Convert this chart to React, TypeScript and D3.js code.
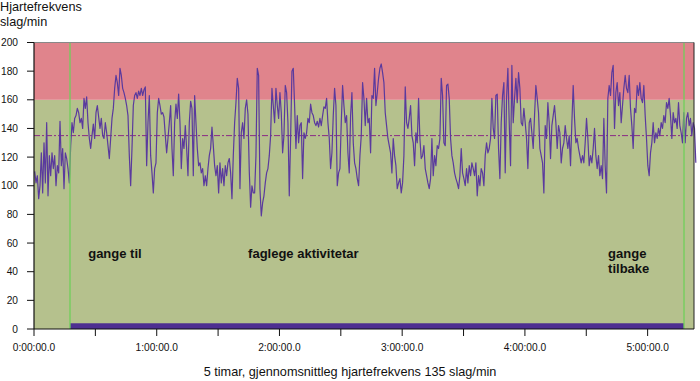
import React from "react";
import * as d3 from "d3";

// ---- data -------------------------------------------------------------
// heart rate samples (slag/min), one sample every ~39 s
const HR_PART1 = [110,102,107,91,100,123,95,130,102,144,93,121,107,123,112,121,100,114,109,145,114,126,98,123,119,112,102,128,144,137,147,149,154,151,144,147,140,161,154,162,144,133,126,135,143,133,151,156,148,140,147,135,133,144,137,128,119,133,147,154,168,177,172,163,182,177,168,165,161,156,149,121,100,126,156,163,165,161,166,163,168,163];
const HR_PART2 = [167,169,114,144,163,121,109,95,112,116,151,161,156,150,151,148,135,123,133,144,156,126,107,144,157,147,164,144,112,133,126,142,126,107,144,159,154,107,163,144,126,114,116,109,112,100,107,100,112,121,126,141,128,114,107,114,95,116,102,112,100,114,107,116,119,109,91,121,144,158,175,168,98,137,144,133,154,160,150,110,85,100,95];
const HR_PART3 = [95,121,182,177,98,79,88,93,102,109,112,121,135,168,156,144,168,156,147,165,151,123,135,170,165,144,93,133,180,182,156,126,149,130,142,144,105,137,133,137,147,144,157,151,149,144,142,145,141,147,142,149,155,154,161,144,133,112,123,149,168,156,100,109,112,144,170,156,144,149,123,109,149,165,130,116,112,105,100,121,135,172];
const HR_PART4 = [161,142,161,144,147,123,163,161,182,156,165,175,182,185,179,172,151,142,133,128,123,109,133,121,114,98,102,105,95,102,121,169,144,140,147,156,135,130,114,137,130,161,133,119,121,128,112,107,102,98,105,133,107,121,114,128,126,133,175,163,130,128,170,171,161,133,121,116,109,105,102,98,107,126,109,105,100,112,102,114,107,116,112];
const HR_PART5 = [107,116,93,107,100,112,109,100,121,130,123,126,133,161,140,133,163,164,126,105,144,163,172,109,161,182,144,114,184,144,161,175,158,179,168,144,142,154,144,133,112,144,147,137,126,149,170,161,151,126,121,116,95,142,133,158,144,119,142,149,156,144,126,142,137,116,126,130,142,133,126,135,114,144,170,147,130,133,126,121,116,121];
const HR_PART6 = [116,130,147,133,114,121,116,126,140,121,112,121,107,114,105,147,114,95,161,170,163,179,184,140,165,172,156,165,144,156,168,177,168,165,177,154,142,126,154,151,170,163,172,161,158,170,149,133,114,107,123,130,144,130,137,133,140,135,144,140,149,144,158,154,161,149,133,151,144,147,140,158,142,137,130,151,130,147,151,142,147,135,144,140,116];

const SAMPLE_START_SEC = 20;
const SAMPLE_STEP_SEC = 39.1;
const TOTAL_SEC = 19360; // right edge of the time axis

const AVERAGE_HR = 135;
const ZONE_BREAKS = [0, 160, 200];
const Y_TICKS = [0, 20, 40, 60, 80, 100, 120, 140, 160, 180, 200];
const X_TICK_SEC = [0, 1800, 3600, 5400, 7200, 9000, 10800, 12600, 14400, 16200, 18000];
const X_LABEL_SEC = [0, 3600, 7200, 10800, 14400, 18000];

const WALK_START_SEC = 1056;
const WALK_END_SEC = 19067;
const BAR_VALUE = 4;

const PHASE_LABELS = [
  { lines: ["gange til"], sec: 1590 },
  { lines: ["faglege aktivitetar"], sec: 6280 },
  { lines: ["gange", "tilbake"], sec: 16840 },
];

const Y_TITLE = ["Hjartefrekvens", "slag/min"];
const X_TITLE = "5 timar, gjennomsnittleg hjartefrekvens 135 slag/min";

// ---- chart -------------------------------------------------------------
const W = 700;
const H = 381;
const FONT = "'Liberation Sans', Arial, Helvetica, sans-serif";

function fmtTime(s: number) {
  const h = Math.floor(s / 3600);
  const m = Math.floor((s % 3600) / 60);
  const sec = Math.floor(s % 60);
  const p = (n: number) => String(n).padStart(2, "0");
  return `${h}:${p(m)}:${p(sec)}.0`;
}

export default function App() {
  const left = 34;
  const right = 694;
  const top = 42.5;
  const bottom = 329;

  const x = d3.scaleLinear().domain([0, TOTAL_SEC]).range([left, right]);
  const y = d3.scaleLinear().domain([0, 200]).range([bottom, top]);

  const hr = [...HR_PART1, ...HR_PART2, ...HR_PART3, ...HR_PART4, ...HR_PART5, ...HR_PART6];
  const points: [number, number][] = hr.map((v, i) => [SAMPLE_START_SEC + i * SAMPLE_STEP_SEC, v]);

  const line = d3
    .line<[number, number]>()
    .x((d) => x(d[0]))
    .y((d) => y(d[1]));

  const zoneColors = ["#b5c18d", "#e0848c"];

  return (
    <svg
      width={W}
      height={H}
      style={{ position: "absolute", left: 0, top: 0, background: "#fff" }}
      fontFamily={FONT}
    >
      {/* zones */}
      {ZONE_BREAKS.slice(0, -1).map((lo, i) => (
        <rect
          key={i}
          x={left}
          y={y(ZONE_BREAKS[i + 1])}
          width={right - left}
          height={y(lo) - y(ZONE_BREAKS[i + 1])}
          fill={zoneColors[i]}
        />
      ))}

      {/* walking bar */}
      <rect
        x={x(WALK_START_SEC)}
        y={y(BAR_VALUE)}
        width={x(WALK_END_SEC) - x(WALK_START_SEC)}
        height={y(0) - y(BAR_VALUE)}
        fill="#4e2f91"
      />

      {/* average line */}
      <line
        x1={left}
        x2={right}
        y1={y(AVERAGE_HR)}
        y2={y(AVERAGE_HR)}
        stroke="#8a2a86"
        strokeWidth={1}
        strokeDasharray="6,2,2,2"
      />

      {/* heart rate */}
      <path d={line(points) || ""} fill="none" stroke="#5a3a9e" strokeWidth={1.2} strokeLinejoin="round" />

      {/* phase boundaries */}
      {[WALK_START_SEC, WALK_END_SEC].map((s) => (
        <line key={s} x1={x(s)} x2={x(s)} y1={top} y2={bottom} stroke="#6fcf5a" strokeWidth={1.3} />
      ))}

      {/* frame */}
      <line x1={left} x2={right} y1={top} y2={top} stroke="#888" strokeWidth={1} />
      <line x1={right} x2={right} y1={top} y2={bottom} stroke="#222" strokeWidth={1} />
      <line x1={left} x2={left} y1={top} y2={bottom} stroke="#111" strokeWidth={1.2} />
      <line x1={left} x2={right} y1={bottom} y2={bottom} stroke="#111" strokeWidth={1.2} />

      {/* y axis */}
      {Y_TICKS.map((t) => (
        <g key={t}>
          <line x1={left - 7} x2={left} y1={y(t)} y2={y(t)} stroke="#111" strokeWidth={1} />
          <text x={18} y={y(t)} dy="0.35em" textAnchor="end" fontSize={10.2} fill="#111">
            {t}
          </text>
        </g>
      ))}

      {/* x axis */}
      {X_TICK_SEC.map((t) => (
        <line key={t} x1={x(t)} x2={x(t)} y1={bottom} y2={bottom + 7} stroke="#111" strokeWidth={1} />
      ))}
      {X_LABEL_SEC.map((t) => (
        <text key={t} x={x(t)} y={350.5} textAnchor="middle" fontSize={10.2} fill="#111">
          {fmtTime(t)}
        </text>
      ))}

      {/* titles */}
      {Y_TITLE.map((s, i) => (
        <text key={s} x={0} y={11 + i * 15} fontSize={12.7} fill="#111">
          {s}
        </text>
      ))}
      <text x={350} y={376} textAnchor="middle" fontSize={12.7} fill="#111">
        {X_TITLE}
      </text>

      {/* phase labels */}
      {PHASE_LABELS.map((p) =>
        p.lines.map((s, i) => (
          <text
            key={p.sec + s}
            x={x(p.sec)}
            y={y(53) + i * 15}
            dy="0.35em"
            fontSize={13}
            fontWeight="bold"
            fill="#111"
          >
            {s}
          </text>
        ))
      )}
    </svg>
  );
}
